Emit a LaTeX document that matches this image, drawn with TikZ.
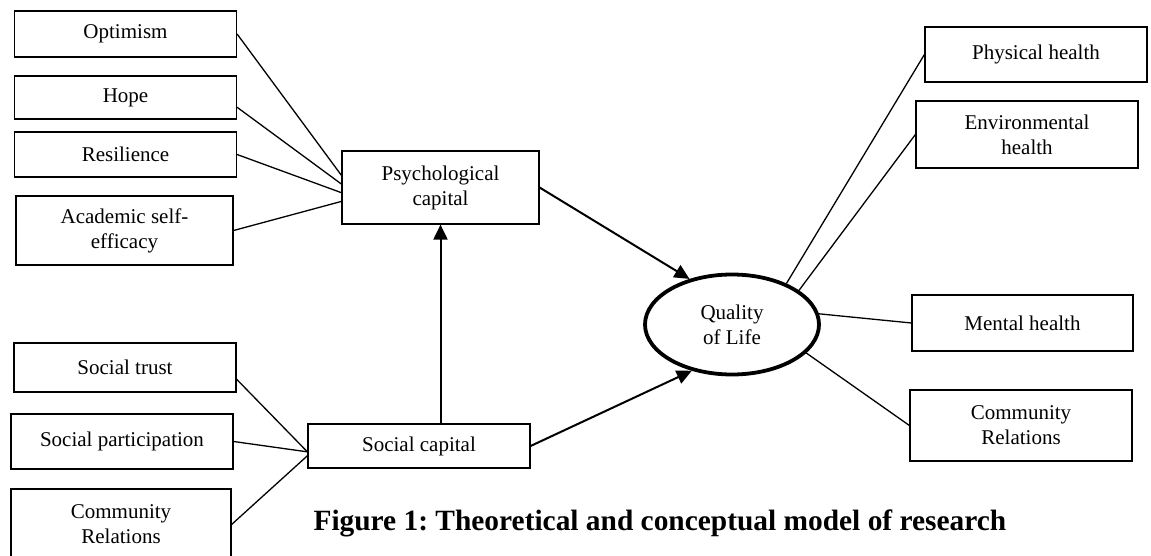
\documentclass[tikz,border=0pt]{standalone}
\usepackage{fontspec}
\setmainfont{Liberation Serif}
\usetikzlibrary{shapes.geometric,arrows.meta}
\frenchspacing
\begin{document}
\begin{tikzpicture}[x=1pt, y=-1pt, font=\fontsize{21}{25}\selectfont,
  box/.style={draw, line width=1.2pt, align=center, inner sep=0pt, minimum width=222pt},
  link/.style={line width=1.3pt},
  arrowline/.style={line width=2pt, -{Triangle[length=15pt, width=14pt]}}]
  \useasboundingbox (0,0) rectangle (1151,556);
  % Psychological capital und Indikatoren
  \node[box, minimum height=46pt] (optimism) at (125.5,34) {Optimism};
  \node[box, minimum height=43pt] (hope) at (125.5,97.5) {Hope};
  \node[box, minimum height=45pt] (resil) at (125.5,154.5) {Resilience};
  \node[box, minimum width=217pt, minimum height=69pt] (acad) at (124.5,230.5) {Academic self-\\efficacy};
  \node[box, minimum width=197pt, minimum height=73pt] (psych) at (440.5,187.5) {Psychological\\capital};
  \draw[link] (optimism.east) -- (psych.173);
  \draw[link] (hope.-5) -- (psych.178);
  \draw[link] (resil.east) -- (psych.183);
  \draw[link] (acad.east) -- (psych.188);
  % Social capital und Indikatoren
  \node[box, minimum height=49pt] (strust) at (125,367.5) {Social trust};
  \node[box, minimum height=55pt] (spart) at (122,441.5) {Social participation};
  \node[box, minimum width=220pt, minimum height=71pt] (commL) at (121,524.5) {Community\\Relations};
  \node[box, minimum height=44pt] (social) at (419,446) {Social capital};
  \draw[link] (strust.-6) -- (social.183);
  \draw[link] (spart.east) -- (social.183);
  \draw[link] (commL.east) -- (social.185);
  % Quality of Life
  \node[draw, ellipse, line width=3.8pt, inner sep=0pt, minimum width=174pt, minimum height=100pt, align=center] (qol) at (732,324.5) {Quality\\of Life};
  \draw[arrowline] (psych.east) -- (qol.133);
  \draw[arrowline] (social.east) -- (qol.229);
  \draw[arrowline] (social.north -| psych.south) -- (psych.south);
  % Dimensionen rechts
  \node[box, minimum height=55pt] (phys) at (1036,54.5) {Physical health};
  \node[box, minimum height=67pt] (env) at (1027,134.5) {Environmental\\health};
  \node[box, minimum width=221pt, minimum height=56pt] (mental) at (1022.5,323) {Mental health};
  \node[box, minimum height=71pt] (commR) at (1021,425.5) {Community\\Relations};
  \draw[link] (qol.37) -- (phys.west);
  \draw[link] (qol.27) -- (env.west);
  \draw[link] (qol.7) -- (mental.west);
  \draw[link] (qol.-21) -- (commR.west);
  \node[anchor=base west, font=\bfseries\fontsize{29.4}{32}\selectfont] (caption) at (310,530) {Figure 1: Theoretical and conceptual model of research};
\end{tikzpicture}
\end{document}
